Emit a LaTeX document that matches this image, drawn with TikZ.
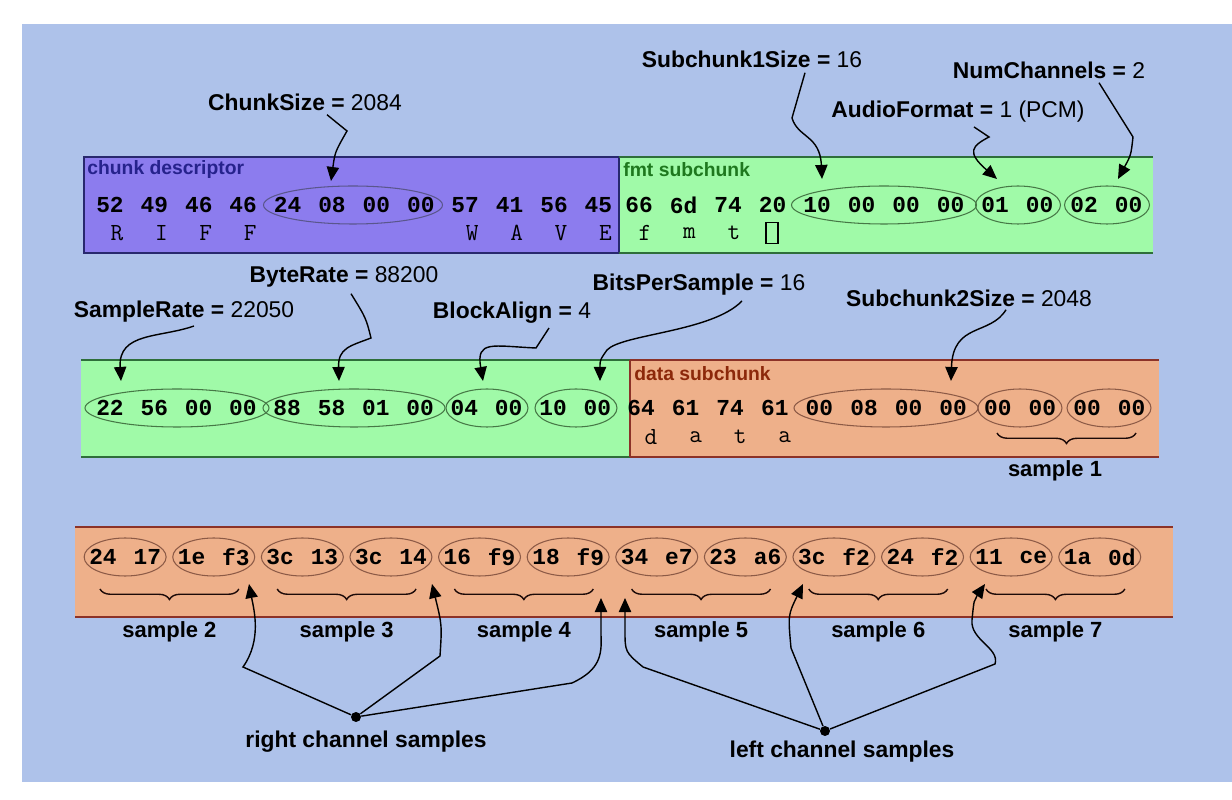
\documentclass[tikz,border=0pt]{standalone}
\usepackage{fontspec}
\setmainfont{Liberation Sans}
\newfontfamily\monofont{Liberation Mono}
\usetikzlibrary{shapes.geometric,arrows.meta,decorations.pathreplacing,calc}
\definecolor{bgblue}{RGB}{174,194,234}
\definecolor{cpurple}{RGB}{140,124,238}
\definecolor{cgreen}{RGB}{160,250,168}
\definecolor{corange}{RGB}{238,176,138}
\definecolor{bpurple}{RGB}{40,40,110}
\definecolor{bgreen}{RGB}{46,110,58}
\definecolor{bred}{RGB}{140,50,40}
\definecolor{tpurple}{RGB}{38,34,140}
\definecolor{tgreen}{RGB}{30,120,30}
\definecolor{tbrown}{RGB}{140,40,10}
\definecolor{opurple}{RGB}{90,86,140}
\definecolor{ogreen}{RGB}{70,120,70}
\definecolor{oorange}{RGB}{140,90,70}
\tikzset{
  hex/.style={font=\monofont\bfseries\fontsize{13}{15}\selectfont, inner sep=0pt},
  chr/.style={font=\ttfamily\fontsize{14}{16}\selectfont, inner sep=0pt},
  lbl/.style={font=\fontsize{13}{15}\selectfont, inner sep=0pt},
  ttl/.style={font=\bfseries\fontsize{11}{13}\selectfont, inner sep=0pt, anchor=west},
  smp/.style={font=\bfseries\fontsize{12.5}{14}\selectfont, inner sep=0pt},
  ovl/.style={ellipse, line width=0.6pt, inner sep=0pt, minimum height=0.76cm},
  arr/.style={line width=0.8pt, -{Triangle[length=8pt,width=7pt]}},
  brc/.style={draw=black!80!bred, line width=0.8pt, decorate, decoration={brace, mirror, amplitude=6pt}},
  dot/.style={circle, fill=black, inner sep=0pt, minimum size=0.2cm}
}
\begin{document}
\begin{tikzpicture}[x=0.02cm, y=-0.02cm]
\useasboundingbox (0,0) rectangle (1232,800);
\fill[white] (0,0) rectangle (1232,800);
\fill[bgblue] (22,24) rectangle (1232,782);

\fill[cpurple] (84,157) rectangle (619,253);
\fill[cgreen] (619,157) rectangle (1153,253);
\draw[bpurple, line width=1.1pt] (84,157) rectangle (619,253);
\draw[bgreen, line width=1.1pt] (619,157) -- (1153,157) (619,253) -- (1153,253);
\fill[cgreen] (81,360) rectangle (630,457);
\fill[corange] (630,360) rectangle (1159,457);
\draw[bgreen, line width=1.1pt] (81,360) -- (630,360) (81,457) -- (630,457);
\draw[bred, line width=1.1pt] (630,360) -- (1159,360) (630,457) -- (1159,457) (630,360) -- (630,457);
\fill[corange] (75,527) rectangle (1173,617);
\draw[bred, line width=1.1pt] (75,527) -- (1173,527) (75,617) -- (1173,617);

\node[ttl, text=tpurple] (tcd) at (87,170) {chunk descriptor};
\node[ttl, text=tgreen] (tfmt) at (623,170) {fmt subchunk};
\node[ttl, text=tbrown] (tdat) at (634,374) {data subchunk};

\node[ovl, draw=opurple, minimum width=3.58cm] (ecs) at (353,205) {};
\node[ovl, draw=ogreen, minimum width=3.7cm] (e1sz) at (884,205) {};
\node[ovl, draw=ogreen, minimum width=1.7cm] (eaf) at (1018,205) {};
\node[ovl, draw=ogreen, minimum width=1.7cm] (enc) at (1107,205) {};
\node[ovl, draw=ogreen, minimum width=3.68cm] (esr) at (177,408) {};
\node[ovl, draw=ogreen, minimum width=3.64cm] (ebr) at (354,408) {};
\node[ovl, draw=ogreen, minimum width=1.64cm] (eba) at (487,408) {};
\node[ovl, draw=ogreen, minimum width=1.64cm] (ebps) at (576,408) {};
\node[ovl, draw=oorange, minimum width=3.68cm] (e2sz) at (886,408) {};
\node[ovl, draw=oorange, minimum width=1.68cm] (es1a) at (1020,408) {};
\node[ovl, draw=oorange, minimum width=1.68cm] (es1b) at (1109,408) {};

\foreach \h [count=\i from 0] in {52,49,46,46,24,08,00,00,57,41,56,45}
  \node[hex] (a\i) at (110+44.4*\i,205) {\h};
\foreach \h [count=\i from 0] in {66,6d,74,20,10,00,00,00,01,00,02,00}
  \node[hex] (f\i) at (639+44.5*\i,205) {\h};
\foreach \h [count=\i from 0] in {22,56,00,00,88,58,01,00,04,00,10,00}
  \node[hex] (g\i) at (110+44.3*\i,408) {\h};
\foreach \h [count=\i from 0] in {64,61,74,61,00,08,00,00,00,00,00,00}
  \node[hex] (d\i) at (641+44.6*\i,408) {\h};
\foreach \c/\i in {R/0,I/1,F/2,F/3,W/8,A/9,V/10,E/11}
  \node[chr] (ca\i) at (117+44.4*\i,233) {\c};
\foreach \c/\i in {f/0,m/1,t/2}
  \node[chr] (cf\i) at (645+44.5*\i,233) {\c};
\node[draw=black, line width=0.6pt, inner sep=0pt, minimum width=0.24cm, minimum height=0.42cm] (spc) at (772,233) {};
\foreach \c/\i in {d/0,a/1,t/2,a/3}
  \node[chr] (cd\i) at (651+44.6*\i,437) {\c};

\draw[brc] (997,433) -- (1136,433);
\node[smp] (smp1) at (1055,471) {sample 1};

\foreach \p/\q [count=\k from 0] in {24/17,1e/f3,3c/13,3c/14,16/f9,18/f9,34/e7,23/a6,3c/f2,24/f2,11/ce,1a/0d} {
  \node[ovl, draw=oorange, minimum width=1.64cm] (s\k) at ({103+44.3*(2*\k+0.5)},557) {};
  \node[hex] (sa\k) at ({103+44.3*2*\k},557) {\p};
  \node[hex] (sb\k) at ({103+44.3*(2*\k+1)},557) {\q};
}
\foreach \n [count=\k from 0] in {2,...,7} {
  \draw[brc] ({103+44.3*4*\k-3},589) -- ({103+44.3*(4*\k+3)+3},589);
  \node[smp] (smp\n) at ({103+44.3*(4*\k+1.5)},632) {sample \n};
}

\node[lbl] (lcs) at (305,102) {\textbf{ChunkSize =} 2084};
\node[lbl] (l1sz) at (752,59) {\textbf{Subchunk1Size =} 16};
\node[lbl] (laf) at (958,112) {\textbf{AudioFormat =} 1 (PCM)};
\node[lbl] (lnc) at (1049,70) {\textbf{NumChannels =} 2};
\node[lbl] (lbr) at (344,277) {\textbf{ByteRate =} 88200};
\node[lbl] (lsr) at (184,312) {\textbf{SampleRate =} 22050};
\node[lbl] (lba) at (512,313) {\textbf{BlockAlign =} 4};
\node[lbl] (lbps) at (699,285) {\textbf{BitsPerSample =} 16};
\node[lbl] (l2sz) at (969,298) {\textbf{Subchunk2Size =} 2048};

\coordinate (tcs) at (331,181);
\coordinate (t1sz) at (822,179);
\coordinate (taf) at (997,179);
\coordinate (tnc) at (1118,179);
\coordinate (tbr) at (339,381);
\coordinate (tsr) at (121,381);
\coordinate (tba) at (483,381);
\coordinate (tbps) at (600,381);
\coordinate (t2sz) at (951,381);

\draw[arr] ($(lcs.south)+(22,4)$) -- (347,131) .. controls (335,152) .. (tcs);
\draw[arr] ($(l1sz.south)+(53,5)$) -- (792,118) .. controls (798,138) and (820,135) .. (t1sz);
\draw[arr] ($(laf.south)+(16,4)$) -- (989,137) .. controls (972,146) and (966,152) .. (taf);
\draw[arr] ($(lnc.south)+(50,4)$) -- (1133,137) .. controls (1131,155) .. (tnc);
\draw[arr] ($(lbr.south)+(7,6)$) .. controls (366,318) .. (371,338) .. controls (350,346) and (338,348) .. (tbr);
\draw[arr] ($(lsr.south)+(10,3)$) .. controls (160,338) and (118,332) .. (tsr);
\draw[arr] ($(lba.south)+(37,4)$) -- (536,348) .. controls (492,346) and (476,340) .. (tba);
\draw[arr] ($(lbps.south)+(43,5)$) .. controls (712,332) and (622,334) .. (607,350) .. controls (600,360) .. (tbps);
\draw[arr] ($(l2sz.south)+(37,3)$) .. controls (990,336) and (953,322) .. (t2sz);

\node[dot] (rdot) at (356,717) {};
\node[dot] (ldot) at (825,731) {};
\node[smp, font=\bfseries\fontsize{13}{15}\selectfont] (rlbl) at (366,742) {right channel samples};
\node[smp, font=\bfseries\fontsize{13}{15}\selectfont] (llbl) at (842,752) {left channel samples};
\coordinate (r1) at (249,584);
\coordinate (r2) at (432,584);
\coordinate (r3) at (601,598);
\coordinate (l1) at (625,598);
\coordinate (l2) at (803,584);
\coordinate (l3) at (985,584);
\draw[arr] (rdot) -- (243,667) .. controls (262,640) and (254,610) .. (r1);
\draw[arr] (rdot) -- (440,656) .. controls (442,625) .. (r2);
\draw[arr] (rdot) -- (572,683) .. controls (600,670) and (602,655) .. (601,635) -- (r3);
\draw[arr] (ldot) -- (643,667) .. controls (625,652) .. (625,630) -- (l1);
\draw[arr] (ldot) -- (791,648) .. controls (788,615) .. (l2);
\draw[arr] (ldot) -- (995,664) .. controls (1000,648) and (970,640) .. (972,620) .. controls (974,600) .. (l3);
\end{tikzpicture}
\end{document}
